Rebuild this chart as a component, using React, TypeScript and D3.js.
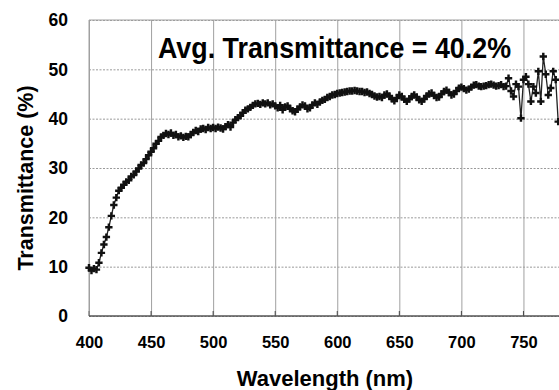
import React, { useRef, useEffect } from 'react';
import * as d3 from 'd3';

// wavelength samples (nm), every 2 nm from 400 to 778
const wavelengths = d3.range(400, 779, 2);

// transmittance (%), one value per wavelength above
const transmittance = [
  9.8, 9.2, 9.6, 9.4, 10.8, 12.8, 14.5, 16.0, 18.0, 20.3,
  22.5, 24.0, 25.4, 26.0, 26.6, 27.2, 27.5, 28.3, 28.6, 29.3,
  29.9, 30.6, 31.0, 31.8, 32.6, 33.3, 34.0, 34.9, 35.5, 36.3,
  36.6, 37.0, 36.8, 37.1, 36.6, 36.8, 36.3, 36.5, 36.2, 36.4,
  36.3, 36.8, 37.2, 37.6, 37.4, 37.9, 38.0, 37.8, 38.2, 38.0,
  38.2, 38.0, 38.3, 38.1, 37.9, 38.4, 38.8, 38.3, 39.2, 39.8,
  40.2, 40.6, 41.2, 41.7, 42.0, 42.3, 42.7, 43.0, 43.1, 42.9,
  43.2, 43.0, 43.2, 42.8, 43.0, 42.6, 42.2, 42.7, 41.8, 42.4,
  42.6, 42.0, 41.6, 41.4, 41.9, 42.4, 42.8, 42.6, 42.0, 42.2,
  42.8, 43.2, 42.9, 43.4, 43.7, 43.9, 44.3, 44.5, 44.8, 44.9,
  45.1, 45.2, 45.3, 45.4, 45.5, 45.6, 45.6, 45.7, 45.6, 45.5,
  45.5, 45.3, 45.4, 45.1, 44.9, 44.6, 44.4, 44.5, 44.3, 44.8,
  45.0, 44.6, 44.0, 43.6, 44.2, 44.8, 44.5, 43.9, 43.5, 44.0,
  44.5, 44.8, 44.4, 43.8, 43.5, 44.0, 44.6, 45.0, 45.2, 44.7,
  44.3, 44.4, 45.0, 45.5, 45.8, 45.3, 44.8, 45.0, 45.6, 46.2,
  46.4, 46.1, 45.8, 46.0, 46.4, 46.8, 46.9, 46.6, 46.5, 46.6,
  46.7, 46.9, 47.0, 46.8, 46.6, 46.7, 46.9, 46.5, 46.6, 48.2,
  45.6, 44.5, 47.0, 46.5, 40.1, 47.9, 48.5, 47.0, 43.5, 46.5,
  45.2, 49.6, 43.5, 52.6, 49.0, 44.8, 46.2, 49.6, 47.9, 39.4,
];

// labelled x ticks (the 800 end of the axis runs past the window)
const xTicks = [400, 450, 500, 550, 600, 650, 700, 750];
const yTicks = [0, 10, 20, 30, 40, 50, 60];

const annotation = 'Avg. Transmittance = 40.2%';
const xTitle = 'Wavelength (nm)';
const yTitle = 'Transmittance (%)';

export default function App() {
  const svgRef = useRef<SVGSVGElement>(null);

  useEffect(() => {
    const svg = d3.select(svgRef.current);
    svg.selectAll('*').remove();

    const left = 89, top = 20, bottom = 316, right = 585.5;
    const x = d3.scaleLinear().domain([400, 800]).range([left, right]);
    const y = d3.scaleLinear().domain([0, 60]).range([bottom, top]);
    const font = '"Liberation Sans", Arial, sans-serif';

    // horizontal dashed gridlines + y labels
    const yAxis = d3.axisLeft(y).tickValues(yTicks).tickSize(-(right - left)).tickSizeOuter(0);
    const gy = svg.append('g').attr('transform', `translate(${left},0)`).call(yAxis);
    gy.select('.domain').remove();
    gy.selectAll('line').attr('stroke', '#9a9a9a').attr('stroke-dasharray', '2,1.5').attr('stroke-width', 1);
    gy.selectAll('text')
      .attr('x', -21).attr('dy', '0.34em')
      .attr('font-family', font).attr('font-weight', 'bold').attr('font-size', 17.5).attr('fill', '#000');

    // vertical solid gridlines + x labels
    const xAxis = d3.axisBottom(x).tickValues(xTicks).tickSize(-(bottom - top)).tickSizeOuter(0);
    const gx = svg.append('g').attr('transform', `translate(0,${bottom})`).call(xAxis);
    gx.select('.domain').remove();
    gx.selectAll('line').attr('stroke', '#a0a0a0').attr('stroke-width', 1);
    gx.selectAll('text')
      .attr('y', 32).attr('dy', 0)
      .attr('font-family', font).attr('font-weight', 'bold').attr('font-size', 16.5).attr('fill', '#000');

    // small dark ticks on the bottom axis
    svg.append('g').selectAll('line').data(xTicks).join('line')
      .attr('x1', d => x(d)).attr('x2', d => x(d))
      .attr('y1', bottom).attr('y2', bottom - 5)
      .attr('stroke', '#444');

    // frame
    svg.append('line').attr('x1', left).attr('x2', right).attr('y1', top).attr('y2', top).attr('stroke', '#a0a0a0');
    svg.append('line').attr('x1', left).attr('x2', left).attr('y1', top).attr('y2', bottom).attr('stroke', '#a0a0a0');
    svg.append('line').attr('x1', left).attr('x2', right).attr('y1', bottom).attr('y2', bottom).attr('stroke', '#555').attr('stroke-width', 1.5);

    const points = wavelengths.map((w, i) => [w, transmittance[i]] as [number, number]);

    // thin connecting line
    const myLine = d3.line<[number, number]>().x(d => x(d[0])).y(d => y(d[1]));
    svg.append('path')
      .attr('d', myLine(points))
      .attr('fill', 'none').attr('stroke', '#222').attr('stroke-width', 1.3);

    // cross markers
    const cross = d3.symbol().type(d3.symbolCross).size(30);
    svg.append('g').selectAll('path').data(points).join('path')
      .attr('transform', d => `translate(${x(d[0])},${y(d[1])})`)
      .attr('d', cross())
      .attr('fill', '#111');

    // annotation
    svg.append('text')
      .attr('x', 158).attr('y', 58)
      .attr('textLength', 353).attr('lengthAdjust', 'spacingAndGlyphs')
      .attr('font-family', font).attr('font-weight', 'bold').attr('font-size', 29)
      .text(annotation);

    // axis titles
    svg.append('text')
      .attr('x', 325).attr('y', 386).attr('text-anchor', 'middle')
      .attr('font-family', font).attr('font-weight', 'bold').attr('font-size', 22)
      .text(xTitle);
    svg.append('text')
      .attr('transform', 'translate(33,178) rotate(-90)').attr('text-anchor', 'middle')
      .attr('font-family', font).attr('font-weight', 'bold').attr('font-size', 21.5)
      .text(yTitle);
  }, []);

  return (
    <svg ref={svgRef} width={559} height={390}
      style={{ position: 'absolute', left: 0, top: 0, background: '#fff', display: 'block' }} />
  );
}
